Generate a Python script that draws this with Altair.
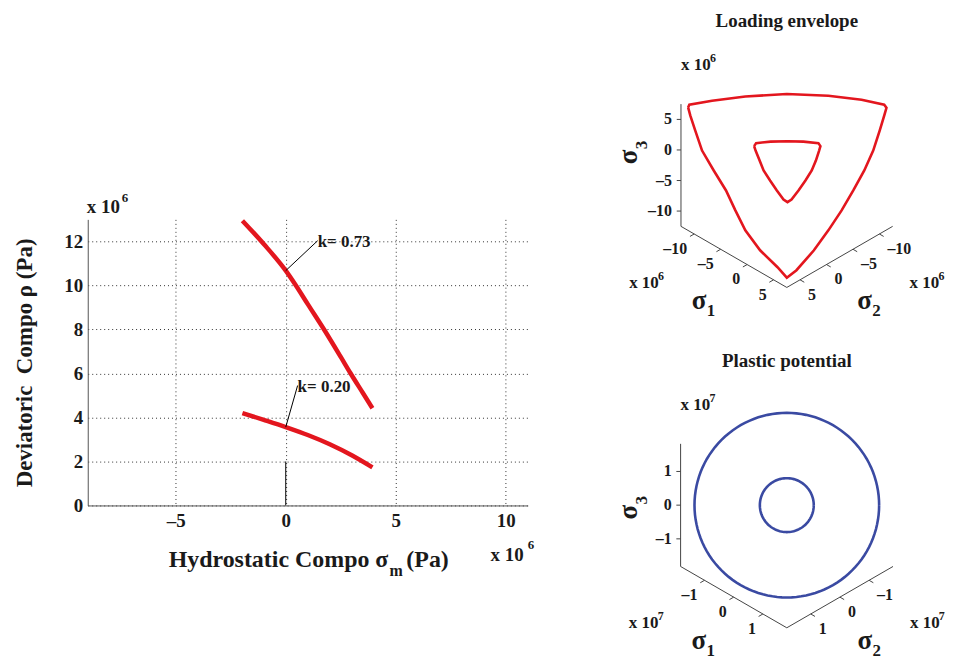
import math
import altair as alt
import pandas as pd

FONT = "Liberation Serif"
INK = "#1a1a1a"
RED = "#e3161e"
BLUE = "#3a4aa2"
AXIS_INK = "#444444"

# ---------------- Left panel (values in 1e6 Pa) ----------------
k073_sigma_m = [-1.97, -1.0, 0.0, 0.44, 1.0, 1.72, 2.5, 2.93, 3.5, 3.94]
k073_rho = [12.94, 11.88, 10.67, 10.03, 9.15, 8.03, 6.75, 6.03, 5.12, 4.42]
k020_sigma_m = [-1.97, -1.0, 0.0, 1.0, 2.0, 3.0, 3.94]
k020_rho = [4.2, 3.89, 3.56, 3.2, 2.78, 2.28, 1.73]
k_labels = ["k= 0.73", "k= 0.20"]
k_label_x = [1.45, 0.54]
k_label_y = [11.95, 5.38]
k_leader_x = [0.0, 0.0]
k_leader_y = [10.67, 3.56]
k_leader_x2 = [1.45, 0.54]
k_leader_y2 = [12.03, 5.45]
marker_x = [0.0]
marker_y = [0.0]
marker_y2 = [2.0]
left_x_ticks = [-5, 0, 5, 10]
left_y_ticks = [0, 2, 4, 6, 8, 10, 12]
left_x_domain = [-9, 11]
left_y_domain = [0, 13]

# ---------------- Loading envelope (deviatoric-plane coords, 1e6 Pa) ----------------
env_outer_x = [-16.15, -15.95, -12.23, -6.79, 0.0, 6.8, 12.23, 15.94, 16.31, 15.94, 15.2,
               14.14, 12.68, 10.88, 8.97, 6.8, 4.44, 1.58, 0.0, -1.52, -4.37, -6.79,
               -8.42, -9.95, -11.96, -13.87, -14.98, -15.79, -16.15]
env_outer_y = [9.46, 9.9, 10.55, 11.26, 11.65, 11.37, 10.72, 9.9, 9.41, 8.11, 5.66,
               2.4, -0.86, -4.13, -7.39, -10.66, -13.92, -17.18, -18.4, -16.69, -13.92, -10.66,
               -7.39, -4.13, -0.86, 2.4, 5.66, 8.11, 9.46]
env_inner_x = [-5.35, -5.02, -2.66, 0.11, 2.72, 5.17, 5.5, 5.29, 4.76, 4.08, 3.05, 1.91,
               0.77, 0.11, -0.54, -1.63, -2.74, -3.8, -4.45, -5.11, -5.35]
env_inner_y = [3.13, 3.62, 3.87, 3.92, 3.87, 3.62, 3.13, 2.4, 0.77, -0.86, -2.5, -4.13,
               -5.6, -6.04, -5.6, -4.13, -2.5, -0.86, 0.77, 2.4, 3.13]
env_ticks = [-10, -5, 0, 5]
env_box = [-12.5, 7.5]

# ---------------- Plastic potential (1e7 Pa) ----------------
pot_radii = [2.74, 0.80]
pot_ticks = [-1, 0, 1]
pot_box = [-1.82, 1.82]

C30 = math.cos(math.radians(30))


def proj(s1, s2, s3):
    """Orthographic view along the hydrostatic axis."""
    return ((s1 - s2) * C30, s3 - (s1 + s2) / 2.0)


def fmt(t):
    return str(t).replace("-", "\u2013")


# =============== LEFT CHART ===============
curve_df = pd.DataFrame({
    "sm": k073_sigma_m + k020_sigma_m,
    "rho": k073_rho + k020_rho,
    "k": ["0.73"] * len(k073_sigma_m) + ["0.20"] * len(k020_sigma_m),
    "i": list(range(len(k073_sigma_m))) + list(range(len(k020_sigma_m))),
})
lx = alt.Scale(domain=left_x_domain, nice=False, zero=False)
ly = alt.Scale(domain=left_y_domain, nice=False, zero=False)
label_expr = "replace(datum.label, '\u2212', '\u2013')"
x_axis = alt.Axis(values=left_x_ticks, grid=True, gridDash=[1, 3], gridColor="#333333",
                  gridWidth=1, ticks=False, domainColor="#555555", labelFont=FONT,
                  labelFontWeight="bold", labelFontSize=19, labelColor=INK, labelPadding=6,
                  labelExpr=label_expr, title=None)
y_axis = alt.Axis(values=left_y_ticks, grid=True, gridDash=[1, 3], gridColor="#333333",
                  gridWidth=1, ticks=False, domainColor="#555555", labelFont=FONT,
                  labelFontWeight="bold", labelFontSize=19, labelColor=INK, labelPadding=5,
                  title="Deviatoric\u00a0\u00a0Compo \u03c1 (Pa)", titleFont=FONT,
                  titleFontWeight="bold", titleFontSize=23, titleColor=INK, titlePadding=27)

curves = alt.Chart(curve_df).mark_line(color=RED, strokeWidth=4.5, interpolate="monotone").encode(
    x=alt.X("sm:Q", scale=lx, axis=x_axis),
    y=alt.Y("rho:Q", scale=ly, axis=y_axis),
    detail="k:N", order="i:Q")

leader_df = pd.DataFrame({"x": k_leader_x, "y": k_leader_y, "x2": k_leader_x2, "y2": k_leader_y2})
leaders = alt.Chart(leader_df).mark_rule(color="black", strokeWidth=1).encode(
    x=alt.X("x:Q", scale=lx), y=alt.Y("y:Q", scale=ly), x2="x2:Q", y2="y2:Q")

marker_df = pd.DataFrame({"x": marker_x, "y": marker_y, "y2": marker_y2})
marker = alt.Chart(marker_df).mark_rule(color="black", strokeWidth=1).encode(
    x=alt.X("x:Q", scale=lx), y=alt.Y("y:Q", scale=ly), y2="y2:Q")

klab_df = pd.DataFrame({"x": k_label_x, "y": k_label_y, "t": k_labels})
klabels = alt.Chart(klab_df).mark_text(font=FONT, fontWeight="bold", fontSize=17, color=INK,
                                       align="left", baseline="middle").encode(
    x=alt.X("x:Q", scale=lx), y=alt.Y("y:Q", scale=ly), text="t:N")


def corner_text(xv, yv, text, size, dx, dy, align="left"):
    d = pd.DataFrame({"x": [xv], "y": [yv], "t": [text]})
    return alt.Chart(d).mark_text(font=FONT, fontWeight="bold", fontSize=size, color=INK,
                                  align=align, baseline="middle", dx=dx, dy=dy).encode(
        x=alt.X("x:Q", scale=lx), y=alt.Y("y:Q", scale=ly), text="t:N")


exp_tl = corner_text(left_x_domain[0], left_y_domain[1], "x 10", 19, -1, -12)
exp_tl6 = corner_text(left_x_domain[0], left_y_domain[1], "6", 13, 34, -21)
exp_br = corner_text(left_x_domain[1], left_y_domain[0], "x 10", 19, -4, 50, align="right")
exp_br6 = corner_text(left_x_domain[1], left_y_domain[0], "6", 13, 0, 40)

xt_df = pd.DataFrame({"t": ["Hydrostatic Compo \u03c3", "m", "(Pa)"],
                      "px": [301.6, 302.6, 319.6], "py": [342, 353, 342]})


def title_piece(i, size, align):
    d = xt_df.iloc[[i]]
    return alt.Chart(d).mark_text(font=FONT, fontWeight="bold", fontSize=size, color=INK,
                                  align=align, baseline="middle").encode(
        x=alt.X("px:Q", scale=None), y=alt.Y("py:Q", scale=None), text="t:N")


xtitle = title_piece(0, 24, "right") + title_piece(1, 16, "left") + title_piece(2, 24, "left")

LEFT_W = 441.4
left = alt.layer(curves, leaders, marker, klabels, exp_tl, exp_tl6, exp_br, exp_br6,
                 xtitle).properties(width=LEFT_W, height=287)

spacer = alt.Chart(pd.DataFrame({"s": [0]})).mark_point(opacity=0).properties(
    width=LEFT_W, height=184)

# =============== RIGHT COLUMN (two 3-D views in one frame) ===============
RIGHT_W = 330
RIGHT_H = 654
RIGHT_X0 = 615   # page position of the right frame (for laying out the views)
RIGHT_Y0 = 8


def panel(title, curve_df, color, sw, box, ticks, exponent, ppu, center, tick_size):
    cx, cy = center
    u_dom = [(RIGHT_X0 - cx) / ppu, (RIGHT_X0 + RIGHT_W - cx) / ppu]
    v_dom = [(cy - RIGHT_Y0 - RIGHT_H) / ppu, (cy - RIGHT_Y0) / ppu]
    xs = alt.Scale(domain=u_dom, nice=False, zero=False)
    ys = alt.Scale(domain=v_dom, nice=False, zero=False)
    lo, hi = box
    d = 0.04 * (hi - lo)  # tick length

    segs = [(proj(lo, hi, lo), proj(lo, hi, hi)),
            (proj(lo, hi, lo), proj(hi, hi, lo)),
            (proj(hi, hi, lo), proj(hi, lo, lo))]
    for t in ticks:
        segs.append((proj(lo, hi, t), proj(lo - d / 2, hi + d / 2, t)))   # sigma_3 ticks
        segs.append((proj(t, hi, lo), proj(t, hi + d, lo)))              # sigma_1 ticks
        segs.append((proj(hi, t, lo), proj(hi + d, t, lo)))              # sigma_2 ticks
    seg_df = pd.DataFrame({"u": [s[0][0] for s in segs], "v": [s[0][1] for s in segs],
                           "u2": [s[1][0] for s in segs], "v2": [s[1][1] for s in segs]})
    axes = alt.Chart(seg_df).mark_rule(color=AXIS_INK, strokeWidth=1).encode(
        x=alt.X("u:Q", scale=xs, axis=None), y=alt.Y("v:Q", scale=ys, axis=None),
        x2="u2:Q", y2="v2:Q")

    lines = alt.Chart(curve_df).mark_line(color=color, strokeWidth=sw).encode(
        x=alt.X("u:Q", scale=xs, axis=None), y=alt.Y("v:Q", scale=ys, axis=None),
        detail="c:N", order="i:Q")

    def txt(points, texts, size, dx=0, dy=0, align="center", angle=0):
        d_ = pd.DataFrame({"u": [p[0] for p in points], "v": [p[1] for p in points], "t": texts})
        return alt.Chart(d_).mark_text(font=FONT, fontWeight="bold", fontSize=size, color=INK,
                                       align=align, baseline="middle", dx=dx, dy=dy,
                                       angle=angle).encode(
            x=alt.X("u:Q", scale=xs, axis=None), y=alt.Y("v:Q", scale=ys, axis=None),
            text="t:N")

    labels = [fmt(t) for t in ticks]
    mid = (lo + hi) / 2.0
    top_pt = proj(lo, hi, hi)
    layers = [axes, lines,
              txt([(0.0, top_pt[1])], [title], 19, dy=-83),
              txt([proj(lo, hi, t) for t in ticks], labels, tick_size, dx=-9, align="right"),
              txt([proj(t, hi, lo) for t in ticks], labels, tick_size, dx=-7, dy=15, align="right"),
              txt([proj(hi, t, lo) for t in ticks], labels, tick_size, dx=8, dy=15, align="left"),
              # sigma_3 (rotated; dx points up, dy points right)
              txt([proj(lo, hi, 0)], ["\u03c3"], 27, dx=-7, dy=-52, angle=270),
              txt([proj(lo, hi, 0)], ["3"], 17, dx=5, dy=-39, angle=270),
              # sigma_1
              txt([proj(mid, hi, lo)], ["\u03c3"], 27, dx=-35, dy=44),
              txt([proj(mid, hi, lo)], ["1"], 17, dx=-23, dy=54),
              # sigma_2
              txt([proj(hi, mid, lo)], ["\u03c3"], 27, dx=25, dy=44),
              txt([proj(hi, mid, lo)], ["2"], 17, dx=37, dy=54),
              # exponent labels
              txt([top_pt], ["x 10"], 17, dx=0, dy=-39, align="left"),
              txt([top_pt], [exponent], 12, dx=29, dy=-46, align="left"),
              txt([proj(lo, hi, lo)], ["x 10"], 17, dx=-52, dy=57, align="left"),
              txt([proj(lo, hi, lo)], [exponent], 12, dx=-23, dy=50, align="left"),
              txt([proj(hi, lo, lo)], ["x 10"], 17, dx=17, dy=57, align="left"),
              txt([proj(hi, lo, lo)], [exponent], 12, dx=46, dy=50, align="left")]
    return alt.layer(*layers)


env_df = pd.DataFrame({
    "u": env_outer_x + env_inner_x,
    "v": env_outer_y + env_inner_y,
    "c": ["outer"] * len(env_outer_x) + ["inner"] * len(env_inner_x),
    "i": list(range(len(env_outer_x))) + list(range(len(env_inner_x))),
})

# circles of the plastic potential, drawn from their radii
pot_rows = []
for ci, r in enumerate(pot_radii):
    for j in range(0, 361, 3):
        a = math.radians(j)
        pot_rows.append({"u": r * math.cos(a), "v": r * math.sin(a), "c": f"r{ci}", "i": j})
pot_df = pd.DataFrame(pot_rows)

top = panel("Loading envelope", env_df, RED, 2.6, env_box, env_ticks, "6", 6.13,
            (788.3, 164.7), 16)
bottom = panel("Plastic potential", pot_df, BLUE, 2.6, pot_box, pot_ticks, "7", 33.8,
               (788.3, 505.7), 16)

right = alt.layer(top, bottom).resolve_scale(x="independent", y="independent").properties(
    width=RIGHT_W, height=RIGHT_H)

left_col = alt.vconcat(spacer, left, spacing=0)

chart = alt.hconcat(left_col, right, spacing=80).properties(
    padding={"left": 5, "top": 0, "right": 0, "bottom": 0}
).configure_view(stroke=None)

chart.save("out.html", embed_options={"renderer": "svg", "actions": False})
